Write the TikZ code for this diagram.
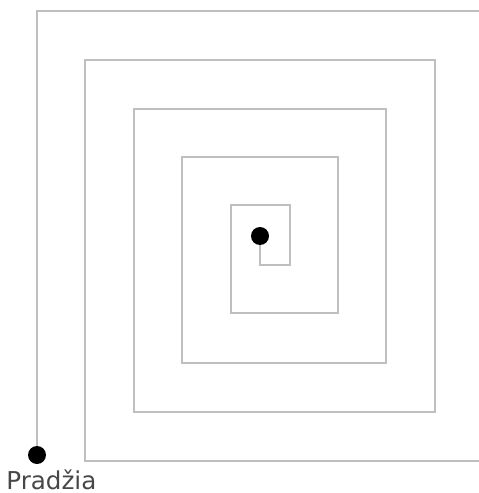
\documentclass[tikz,border=0pt]{standalone}
\usepackage{fontspec}
\newfontfamily\labelfont{DejaVu Sans}
\usepackage{tikz}
\tikzset{spiral/.style={draw=black!25,line width=1.6pt},
  dot/.style={circle,fill=black,inner sep=0pt,minimum size=0.36cm}}

\begin{document}
\begin{tikzpicture}[x=0.02cm,y=-0.02cm]
\path[use as bounding box,clip] (0,0) rectangle (479,493);
\node[dot] (start) at (37,455) {};
\node[dot] (goal) at (260,236) {};
\node[anchor=base west,inner sep=0pt,text=black!72,font=\labelfont\fontsize{14}{16}\selectfont] (lbl) at (6,489) {Pradžia};
\draw[spiral] (start) -- (37,11) -- (484,11) -- (484,461) -- (85,461)
  -- (85,60) -- (435,60) -- (435,412) -- (134,412)
  -- (134,109) -- (386,109) -- (386,363) -- (182,363)
  -- (182,157) -- (338,157) -- (338,313) -- (231,313)
  -- (231,205) -- (290,205) -- (290,265) -- (260,265) -- (goal);
\end{tikzpicture}
\end{document}
